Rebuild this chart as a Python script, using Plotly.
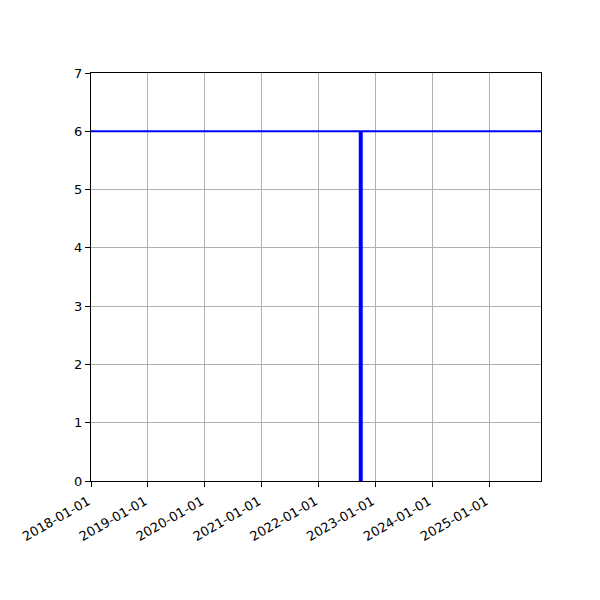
import plotly.graph_objects as go

x_range = ["2018-01-01", "2025-12-01"]
tick_dates = ["2018-01-01", "2019-01-01", "2020-01-01", "2021-01-01",
              "2022-01-01", "2023-01-01", "2024-01-01", "2025-01-01"]
hline_y = [6, 6]
event_date = "2022-09-30"
event_y = [0, 6]
y_ticks = [0, 1, 2, 3, 4, 5, 6, 7]

fig = go.Figure()
fig.add_trace(go.Scatter(x=x_range, y=hline_y, mode="lines",
                         line=dict(color="#0000ff", width=2), showlegend=False))
fig.add_trace(go.Scatter(x=[event_date, event_date], y=event_y, mode="lines",
                         line=dict(color="#0000ff", width=4), showlegend=False))

axis_common = dict(showline=True, linecolor="black", linewidth=1, mirror=True,
                   ticks="outside", ticklen=5, tickcolor="black",
                   showgrid=True, gridcolor="#b0b0b0", gridwidth=1, zeroline=False,
                   automargin=False,
                   tickfont=dict(family="DejaVu Sans", size=13, color="black"))

fig.update_layout(
    width=600, height=600,
    margin=dict(l=83, r=67, t=65, b=127),
    plot_bgcolor="white", paper_bgcolor="white",
    xaxis=dict(range=x_range, tickvals=tick_dates, ticktext=tick_dates,
               tickangle=-30, ticklabelshift=-3, ticklabelstandoff=2, **axis_common),
    yaxis=dict(range=[0, 7], tickvals=y_ticks, **axis_common),
)
fig.write_html("out.html")
